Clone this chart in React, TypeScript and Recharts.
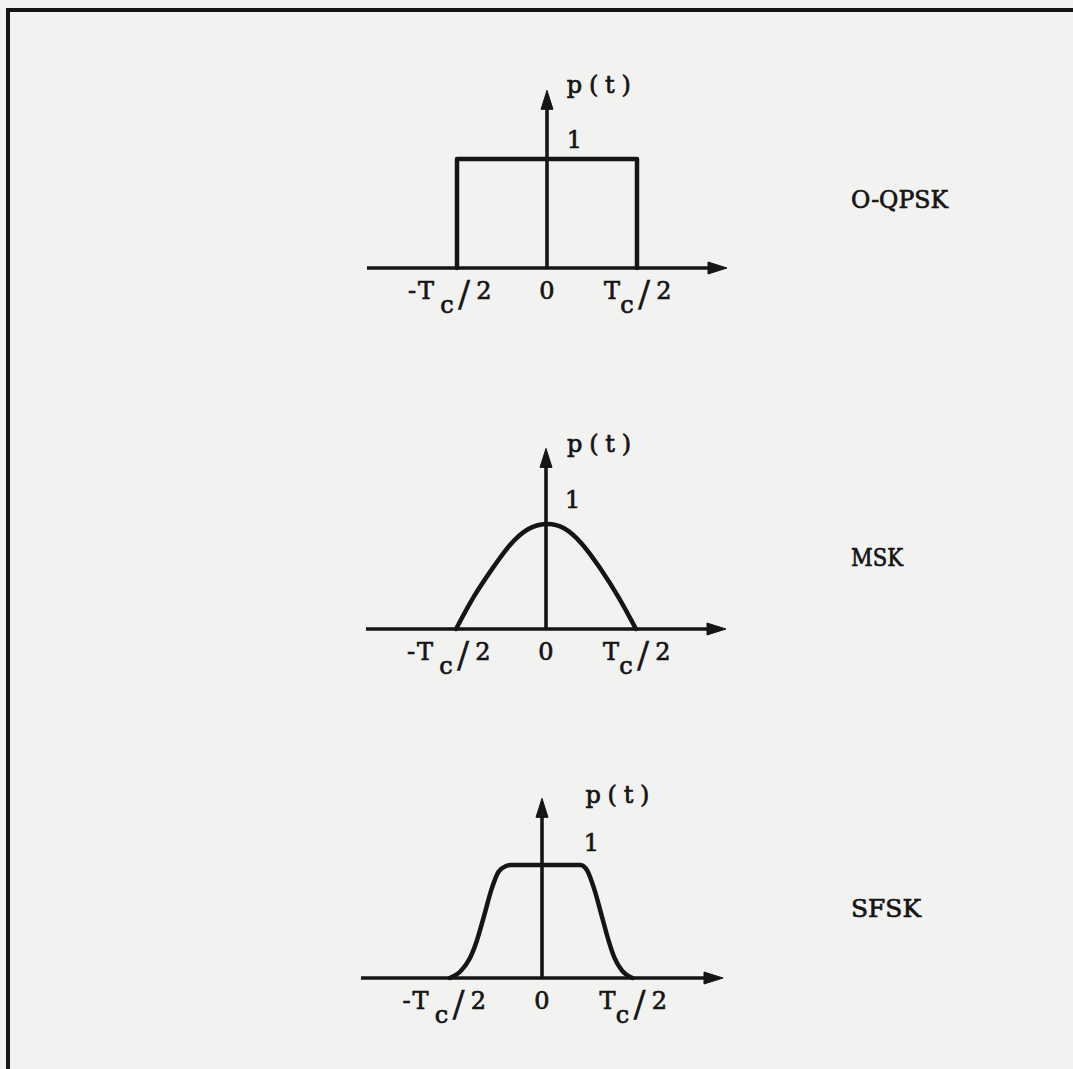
import React from "react";
import { LineChart, Line, XAxis, YAxis, ReferenceLine, ReferenceDot } from "recharts";

const INK = "#151515";
const PAPER = "#f2f2f1";
const FONT = "'DejaVu Serif', serif";
const FS = 24;

// pulse shapes p(t), t in units of Tc
const oqpskT = [-0.5, -0.5, 0.5, 0.5];
const oqpskP = [0, 1, 1, 0];

const mskT = [-0.5, -0.4, -0.3, -0.2, -0.1, 0, 0.1, 0.2, 0.3, 0.4, 0.5];
const mskP = [0, 0.31, 0.57, 0.8, 0.95, 1, 0.96, 0.81, 0.58, 0.31, 0];

const sfskT = [-0.51, -0.45, -0.4, -0.36, -0.32, -0.28, -0.24, -0.2, -0.17, 0, 0.213, 0.25, 0.29, 0.33, 0.37, 0.4, 0.44, 0.5];
const sfskP = [0, 0.06, 0.17, 0.33, 0.55, 0.78, 0.94, 0.99, 1, 1, 1, 0.95, 0.78, 0.55, 0.32, 0.18, 0.07, 0];

const tickValues = [-0.5, 0, 0.5];
const modulations = ["O-QPSK", "MSK", "SFSK"];
const nameWidths = [97, 52, 70];

type Panel = {
  name: string;
  nameWidth: number;
  t: number[];
  p: number[];
  curve: "linear" | "natural" | "monotone";
  left: number;
  right: number;
  y0: number;
  unit: number;
  axisTop: number;
  ptLabel: [number, number];
  oneLabel: [number, number];
  nameY: number;
};

const panels: Panel[] = [
  { name: modulations[0], nameWidth: nameWidths[0], t: oqpskT, p: oqpskP, curve: "linear", left: 367, right: 727, y0: 268, unit: 109, axisTop: 1.63, ptLabel: [0.11, 1.61], oneLabel: [0.11, 1.1], nameY: 208 },
  { name: modulations[1], nameWidth: nameWidths[1], t: mskT, p: mskP, curve: "natural", left: 366, right: 726, y0: 629, unit: 105, axisTop: 1.72, ptLabel: [0.117, 1.69], oneLabel: [0.105, 1.15], nameY: 566 },
  { name: modulations[2], nameWidth: nameWidths[2], t: sfskT, p: sfskP, curve: "monotone", left: 361, right: 723, y0: 978, unit: 113, axisTop: 1.59, ptLabel: [0.24, 1.55], oneLabel: [0.23, 1.12], nameY: 917 },
];

const Arrow = (props: any) => {
  const { x1, y1, x2, y2 } = props;
  const ang = Math.atan2(y2 - y1, x2 - x1);
  const len = 19;
  const half = 6;
  const bx = x2 - len * Math.cos(ang);
  const by = y2 - len * Math.sin(ang);
  const px = -Math.sin(ang) * half;
  const py = Math.cos(ang) * half;
  return (
    <g>
      <line x1={x1} y1={y1} x2={bx + 2 * Math.cos(ang)} y2={by + 2 * Math.sin(ang)} stroke={INK} strokeWidth={3.6} />
      <polygon points={`${x2},${y2} ${bx + px},${by + py} ${bx - px},${by - py}`} fill={INK} stroke={INK} strokeWidth={1} strokeLinejoin="round" />
    </g>
  );
};

const txt = { fontFamily: FONT, fontSize: FS, fill: INK, stroke: INK, strokeWidth: 0.7 };

// typed "T_c/2" labels: T, lowered c, long slash, 2
const TcTick = (props: any) => {
  const { x, y, payload } = props;
  const v = payload.value;
  const base = y + 31;
  if (v === 0) {
    return (
      <text x={x} y={base} textAnchor="middle" {...txt}>
        0
      </text>
    );
  }
  return (
    <g>
      {v < 0 && (
        <text x={x - 45} y={base} textAnchor="middle" {...txt}>
          -
        </text>
      )}
      <text x={x - (v < 0 ? 31 : 25)} y={base} textAnchor="middle" {...txt}>
        T
      </text>
      <text x={x - 10} y={base + 14} textAnchor="middle" {...txt}>
        c
      </text>
      <text x={x + 7} y={base + 7} textAnchor="middle" {...txt} fontSize={36} strokeWidth={0.3}>
        /
      </text>
      <text x={x + 27} y={base} textAnchor="middle" {...txt}>
        2
      </text>
    </g>
  );
};

const textShape = (label: string, width?: number) => (props: any) => (
  <text x={props.cx} y={props.cy} {...txt} textLength={width} lengthAdjust={width ? "spacing" : undefined}>
    {label}
  </text>
);

const AXIS_H = 70;
const Y_MAX = 2;

function PulsePlot({ panel }: { panel: Panel }) {
  const data = panel.t.map((t, i) => ({ t, p: panel.p[i] }));
  const plotH = Y_MAX * panel.unit;
  return (
    <div style={{ position: "absolute", left: 0, top: panel.y0 - plotH }}>
      <LineChart
        width={1073}
        height={plotH + AXIS_H}
        data={data}
        margin={{ top: 0, right: 1073 - panel.right, bottom: 0, left: panel.left }}
      >
        <XAxis
          type="number"
          dataKey="t"
          domain={[-1, 1]}
          ticks={tickValues}
          axisLine={false}
          tickLine={false}
          tickSize={0}
          tickMargin={0}
          height={AXIS_H}
          tick={<TcTick />}
          interval={0}
        />
        <YAxis type="number" domain={[0, Y_MAX]} hide />
        <ReferenceLine segment={[{ x: -1, y: 0 }, { x: 1, y: 0 }]} ifOverflow="visible" shape={Arrow} />
        <ReferenceLine segment={[{ x: 0, y: 0 }, { x: 0, y: panel.axisTop }]} ifOverflow="visible" shape={Arrow} />
        <Line
          dataKey="p"
          type={panel.curve}
          stroke={INK}
          strokeWidth={4.5}
          strokeLinejoin="round"
          strokeLinecap="round"
          dot={false}
          isAnimationActive={false}
        />
        <ReferenceDot x={panel.ptLabel[0]} y={panel.ptLabel[1]} r={0} ifOverflow="visible" shape={textShape("p(t)", 64)} />
        <ReferenceDot x={panel.oneLabel[0]} y={panel.oneLabel[1]} r={0} ifOverflow="visible" shape={textShape("1")} />
      </LineChart>
    </div>
  );
}

export default function App() {
  return (
    <div style={{ position: "absolute", left: 0, top: 0, width: 1073, height: 1069, background: PAPER, overflow: "hidden" }}>
      <div style={{ position: "absolute", left: 6, top: 8, width: 1067, height: 4, background: INK }} />
      <div style={{ position: "absolute", left: 6, top: 8, width: 4, height: 1061, background: INK }} />
      {panels.map((panel) => (
        <PulsePlot key={panel.name} panel={panel} />
      ))}
      <svg style={{ position: "absolute", left: 0, top: 0 }} width={1073} height={1069}>
        {panels.map((panel) => (
          <text key={panel.name} x={851} y={panel.nameY} {...txt} textLength={panel.nameWidth} lengthAdjust="spacingAndGlyphs">
            {panel.name}
          </text>
        ))}
      </svg>
    </div>
  );
}
